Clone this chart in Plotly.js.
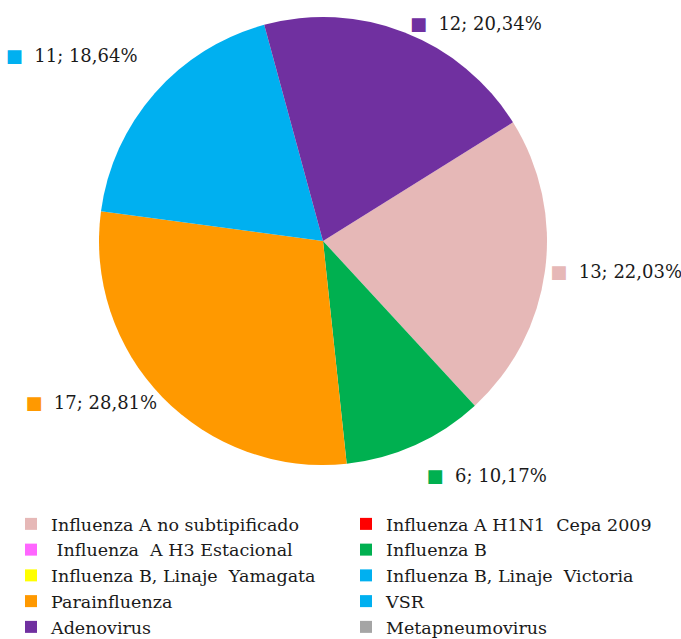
<!DOCTYPE html>
<html>
<head>
<meta charset="utf-8">
<script src="https://cdn.plot.ly/plotly-3.0.1.min.js"></script>
<style>html,body{margin:0;padding:0;background:#fff;}</style>
</head>
<body>
<div id="chart" style="width:681px;height:639px;"></div>
<script>
const categories = [
  "Influenza A no subtipificado",
  "Influenza A H1N1  Cepa 2009",
  " Influenza  A H3 Estacional",
  "Influenza B",
  "Influenza B, Linaje  Yamagata",
  "Influenza B, Linaje  Victoria",
  "Parainfluenza",
  "VSR",
  "Adenovirus",
  "Metapneumovirus"
];
const values = [13, 0, 0, 6, 0, 0, 17, 11, 12, 0];
const colors = ["#E6B8B7", "#FF0000", "#FF66FF", "#00B050", "#FFFF00",
                "#00B0F0", "#FF9900", "#00B0F0", "#7030A0", "#A5A5A5"];
// extra blank lines above / below a data label (Excel placed these labels further out)
const linesAbove = [0, 0, 0, 1, 0, 0, 0, 0, 0, 0];
const linesBelow = [0, 0, 0, 0, 0, 0, 0, 2, 0, 0];

const FONT = "DejaVu Serif";
const labelTemplates = values.map((v, i) => {
  if (!(v > 0)) return "";
  const base = "<span style='color:" + colors[i] + "'>■</span>  %{value}; %{percent:.2%}";
  return " <br>".repeat(linesAbove[i]) + base + "<br> ".repeat(linesBelow[i]);
});

const trace = {
  type: "pie",
  labels: categories,
  values: values,
  sort: false,
  direction: "clockwise",
  rotation: 58,
  marker: { colors: colors, line: { width: 0 } },
  texttemplate: labelTemplates,
  textposition: "outside",
  outsidetextfont: { family: FONT, size: 18, color: "#1a1a1a" },
  hoverinfo: "label+value+percent",
  domain: { x: [99/681, 547/681], y: [1 - 465/639, 1 - 17/639] },
  showlegend: true
};

const layout = {
  width: 681, height: 639,
  margin: { l: 0, r: 0, t: 0, b: 0, autoexpand: false },
  paper_bgcolor: "#fff",
  separators: ",.",
  font: { family: FONT, size: 18, color: "#1a1a1a" },
  legend: {
    orientation: "h",
    x: 11/681, xanchor: "left",
    y: 1 - 506/639, yanchor: "top",
    entrywidth: 290, entrywidthmode: "pixels",
    itemwidth: 30,
    font: { family: FONT, size: 17.5, color: "#1a1a1a" },
    traceorder: "normal"
  }
};

Plotly.newPlot("chart", [trace], layout, { displayModeBar: false, staticPlot: true });
</script>
</body>
</html>
